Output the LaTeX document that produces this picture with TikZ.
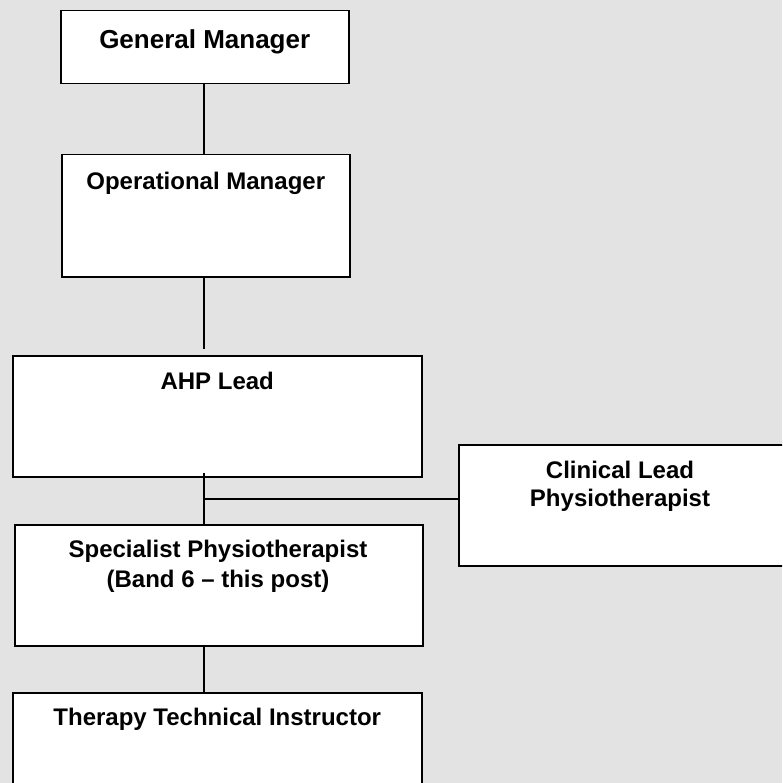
\documentclass[tikz,border=0pt]{standalone}
\usepackage{fontspec}
\setmainfont{Liberation Sans}
\usetikzlibrary{calc}
\begin{document}
\begin{tikzpicture}[x=1pt,y=-1pt,
  box/.style={draw=black,fill=white,line width=1.5pt,rectangle,inner sep=0pt,anchor=north west},
  lbl/.style={font=\fontsize{24}{29}\selectfont\bfseries,align=center,anchor=base,inner sep=0pt},
  conn/.style={line width=1.2pt,draw=black}]
\useasboundingbox (0,0) rectangle (782,783);
\clip (0,0) rectangle (782,783);
\fill[fill={rgb,255:red,227;green,227;blue,227}] (0,0) rectangle (782,783);

% boxes
\node[box,minimum width=288pt,minimum height=73pt] (gm) at (60,10) {};
\node[box,minimum width=288pt,minimum height=122pt] (om) at (61,154) {};
\node[box,minimum width=409pt,minimum height=121pt] (ahp) at (12,355) {};
\node[box,minimum width=340pt,minimum height=121pt] (cl) at (458,444) {};
\node[box,minimum width=408pt,minimum height=121pt] (sp) at (14,524) {};
\node[box,minimum width=409pt,minimum height=120pt] (tti) at (12,692) {};

% labels
\node[lbl,font=\fontsize{26}{31}\selectfont\bfseries] (gmt) at ($(gm.north)+(0,39)$) {General Manager};
\node[lbl] (omt) at ($(om.north)+(0,36)$) {Operational Manager};
\node[lbl] (ahpt) at ($(ahp.north)+(0,34)$) {AHP Lead};
\node[lbl,font=\fontsize{24}{28}\selectfont\bfseries] (clt) at (620,506) {Clinical Lead\\Physiotherapist};
\node[lbl,font=\fontsize{24}{30}\selectfont\bfseries] (spt) at (218,587) {Specialist Physiotherapist\\(Band 6 -- this post)};
\node[lbl] (ttit) at ($(tti.north)+(0,33)$) {Therapy Technical Instructor};

% connector points
\coordinate (c1) at (204,83);
\coordinate (c2) at (204,154);
\coordinate (c3) at (204,276);
\coordinate (c4) at (204,349);
\coordinate (c5) at (204,473);
\coordinate (c6) at (204,524);
\coordinate (c7) at (204,499);
\coordinate (c8) at (204,645);
\coordinate (c9) at (204,692);

\draw[conn] (c1) -- (c2);
\draw[conn] (c3) -- (c4);
\draw[conn] (c5) -- (c6);
\draw[conn] (c7) -- (c7 -| cl.west);
\draw[conn] (c8) -- (c9);
\end{tikzpicture}
\end{document}
